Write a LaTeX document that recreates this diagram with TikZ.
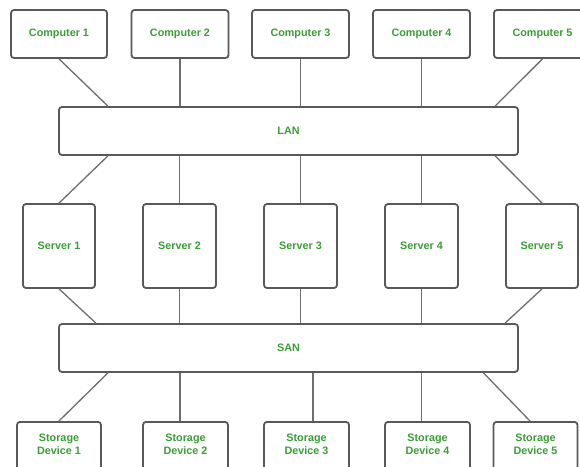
\documentclass[tikz,border=0pt]{standalone}
\usepackage{fontspec}
\setmainfont{Liberation Sans}
\usetikzlibrary{calc}
\definecolor{labelgreen}{HTML}{3C9E36}
\definecolor{edgegrey}{HTML}{595959}
\definecolor{linkgrey}{HTML}{6E6E6E}
\begin{document}
\begin{tikzpicture}[x=1pt,y=-1pt,
  box/.style={draw=edgegrey, line width=1.8pt, rounded corners=3pt, fill=white,
    inner sep=0pt, align=center, text=labelgreen,
    font=\fontsize{10.8}{12.5}\selectfont\bfseries},
  link/.style={draw=linkgrey, line width=1.3pt}]
\useasboundingbox (0,0) rectangle (580,466);

% computers
\node[box, minimum width=96pt, minimum height=48pt] (c1) at (59,34) {Computer 1};
\node[box, minimum width=97pt, minimum height=48pt] (c2) at (180,34) {Computer 2};
\node[box, minimum width=97pt, minimum height=48pt] (c3) at (300.5,34) {Computer 3};
\node[box, minimum width=97pt, minimum height=48pt] (c4) at (421.5,34) {Computer 4};
\node[box, minimum width=97pt, minimum height=48pt] (c5) at (542.5,34) {Computer 5};

% buses
\node[box, minimum width=459pt, minimum height=48pt] (lan) at (288.5,131) {LAN};
\node[box, minimum width=459pt, minimum height=48pt] (san) at (288.5,348) {SAN};

% servers
\node[box, minimum width=72pt, minimum height=84pt] (s1) at (59,246) {Server 1};
\node[box, minimum width=73pt, minimum height=84pt] (s2) at (179.5,246) {Server 2};
\node[box, minimum width=73pt, minimum height=84pt] (s3) at (300.5,246) {Server 3};
\node[box, minimum width=73pt, minimum height=84pt] (s4) at (421.5,246) {Server 4};
\node[box, minimum width=72pt, minimum height=84pt] (s5) at (542,246) {Server 5};

% storage devices
\node[box, minimum width=84pt, minimum height=70pt, anchor=north] (d1) at (59,421) {};
\node[box, minimum width=85pt, minimum height=70pt, anchor=north] (d2) at (185.5,421) {};
\node[box, minimum width=85pt, minimum height=70pt, anchor=north] (d3) at (306.5,421) {};
\node[box, minimum width=85pt, minimum height=70pt, anchor=north] (d4) at (427.5,421) {};
\node[box, minimum width=84pt, minimum height=70pt, anchor=north] (d5) at (535.5,421) {};
\foreach \i in {1,...,5}{
  \node[box, draw=none, fill=none, anchor=center] (t\i) at ($(d\i.north)+(0,23.5)$)
    {Storage\\Device \i};
}

% computers to LAN
\draw[link] (c1.south) -- (lan.north -| c1.east);
\draw[link] (c2.south) -- (lan.north -| c2.south);
\draw[link] (c3.south) -- (lan.north -| c3.south);
\draw[link] (c4.south) -- (lan.north -| c4.south);
\draw[link] (c5.south) -- ($(lan.north -| c5.west)+(2,0)$);

% LAN to servers
\draw[link] (lan.south -| c1.east) -- (s1.north);
\draw[link] (lan.south -| s2.north) -- (s2.north);
\draw[link] (lan.south -| s3.north) -- (s3.north);
\draw[link] (lan.south -| s4.north) -- (s4.north);
\draw[link] ($(lan.south -| c5.west)+(2,0)$) -- (s5.north);

% servers to SAN
\draw[link] (s1.south) -- (san.north -| s1.east);
\draw[link] (s2.south) -- (san.north -| s2.south);
\draw[link] (s3.south) -- (san.north -| s3.south);
\draw[link] (s4.south) -- (san.north -| s4.south);
\draw[link] (s5.south) -- (san.north -| s5.west);

% SAN to storage devices
\draw[link] (san.south -| c1.east) -- (d1.north);
\draw[link] (san.south -| c2.south) -- (d2.north -| c2.south);
\draw[link] ($(san.south -| d3.north)+(6.5,0)$) -- ($(d3.north)+(6.5,0)$);
\draw[link] (san.south -| c4.south) -- (d4.north -| c4.south);
\draw[link] ($(san.south -| d5.north)+(-52,0)$) -- ($(d5.north)+(-5.5,0)$);
\end{tikzpicture}
\end{document}
